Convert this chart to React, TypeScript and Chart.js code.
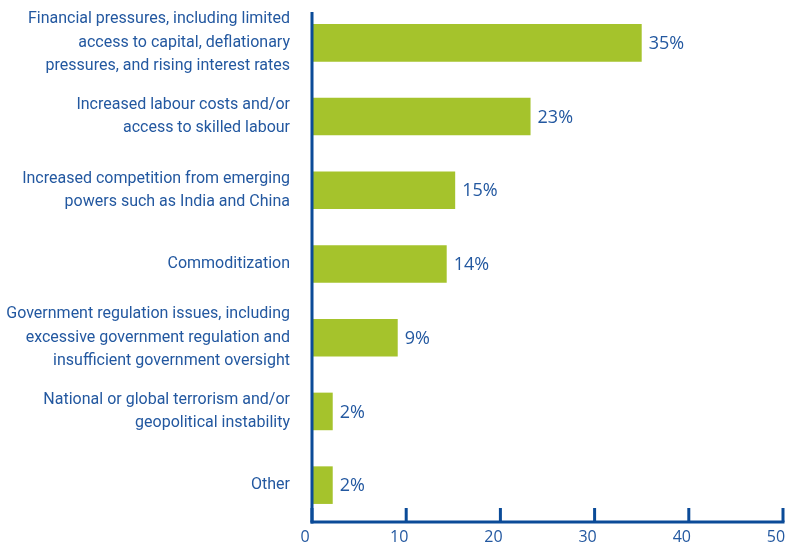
import React, { useEffect, useRef } from "react";
import { Chart, registerables } from "chart.js";

Chart.register(...registerables);

const categories: string[][] = [
  ["Financial pressures, including limited", "access to capital, deflationary", "pressures, and rising interest rates"],
  ["Increased labour costs and/or", "access to skilled labour"],
  ["Increased competition from emerging", "powers such as India and China"],
  ["Commoditization"],
  ["Government regulation issues, including", "excessive government regulation and", "insufficient government oversight"],
  ["National or global terrorism and/or", "geopolitical instability"],
  ["Other"],
];
const values: number[] = [35, 23.2, 15.2, 14.3, 9.1, 2.2, 2.2];
const valueLabels: string[] = ["35%", "23%", "15%", "14%", "9%", "2%", "2%"];
const xTicks: number[] = [0, 10, 20, 30, 40, 50];

const GREEN = "#a5c32c";
const AXIS = "#0b4b98";
const TEXT = "#2358a0";
const FONT = "'Open Sans'";
const CAT_FONT = "Roboto";

const axisPlugin = {
  id: "axisPlugin",
  afterDatasetsDraw(chart: any) {
    const ctx = chart.ctx;
    const area = chart.chartArea;
    const x = chart.scales.x;
    ctx.save();
    ctx.strokeStyle = AXIS;
    ctx.lineWidth = 3;
    ctx.lineCap = "butt";
    ctx.beginPath();
    ctx.moveTo(area.left, 12);
    ctx.lineTo(area.left, area.bottom + 1.5);
    ctx.stroke();
    ctx.beginPath();
    ctx.moveTo(area.left - 1.5, area.bottom);
    ctx.lineTo(x.getPixelForValue(xTicks[xTicks.length - 1]) + 1.5, area.bottom);
    ctx.stroke();
    xTicks.forEach((v) => {
      const px = x.getPixelForValue(v);
      ctx.beginPath();
      ctx.moveTo(px, area.bottom);
      ctx.lineTo(px, area.bottom - 14);
      ctx.stroke();
    });
    const meta = chart.getDatasetMeta(0);
    ctx.fillStyle = TEXT;
    ctx.font = `18px ${FONT}`;
    ctx.textAlign = "left";
    ctx.textBaseline = "middle";
    meta.data.forEach((el: any, i: number) => {
      ctx.fillText(valueLabels[i], el.x + 7, el.y + 1);
    });
    ctx.restore();
  },
};

export default function App() {
  const ref = useRef<HTMLCanvasElement | null>(null);
  useEffect(() => {
    document.body.style.margin = "0";
    const chart = new Chart(ref.current as HTMLCanvasElement, {
      type: "bar",
      data: {
        labels: categories,
        datasets: [
          {
            data: values,
            backgroundColor: GREEN,
            borderWidth: 0,
            barPercentage: 0.51,
            categoryPercentage: 1,
          },
        ],
      },
      options: {
        indexAxis: "y",
        animation: false,
        responsive: false,
        maintainAspectRatio: false,
        layout: { padding: { top: 6, right: 16, bottom: 0, left: 0 } },
        plugins: { legend: { display: false }, tooltip: { enabled: false } },
        scales: {
          x: {
            type: "linear",
            min: 0,
            max: 50,
            afterBuildTicks: (scale: any) => {
              scale.ticks = xTicks.map((v) => ({ value: v }));
            },
            afterFit: (scale: any) => {
              scale.height = 28;
              scale.paddingLeft = 0;
              scale.paddingRight = 0;
            },
            grid: { display: false, drawTicks: false, tickLength: 0 },
            border: { display: false },
            ticks: {
              color: TEXT,
              font: { family: FONT, size: 16 },
              padding: 6,
              labelOffset: -7,
              maxRotation: 0,
              autoSkip: false,
            },
          },
          y: {
            type: "category",
            offset: true,
            afterFit: (scale: any) => {
              scale.width = 312;
              scale.paddingTop = 0;
              scale.paddingBottom = 0;
            },
            grid: { display: false, drawTicks: false, tickLength: 0 },
            border: { display: false },
            ticks: {
              color: TEXT,
              font: { family: CAT_FONT, size: 16, lineHeight: 1.47 },
              padding: 22,
              autoSkip: false,
            },
          },
        },
      },
      plugins: [axisPlugin],
    } as any);
    return () => chart.destroy();
  }, []);
  return (
    <div style={{ position: "absolute", left: 0, top: 0, width: 799, height: 550 }}>
      <canvas ref={ref} width={799} height={550} style={{ width: 799, height: 550 }} />
    </div>
  );
}
